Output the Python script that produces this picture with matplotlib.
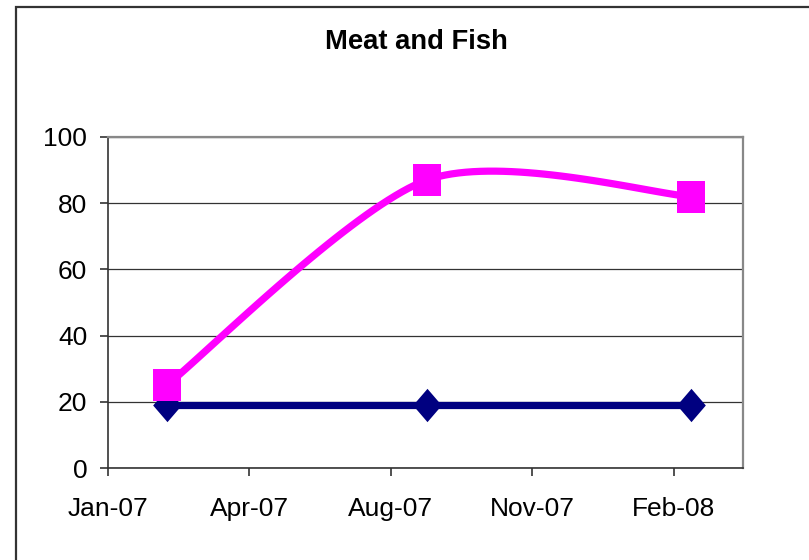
import datetime as dt
import matplotlib
matplotlib.use('Agg')
import matplotlib.pyplot as plt
import matplotlib.dates as mdates
from matplotlib.patches import Rectangle
import numpy as np

plt.rcParams['font.family'] = ['Liberation Sans', 'DejaVu Sans']

# datos
fechas = [dt.date(2007, 2, 14), dt.date(2007, 8, 28), dt.date(2008, 3, 13)]
rosa = [25, 87, 82]
azul = [19, 19, 19]
y_ticks = [0, 20, 40, 60, 80, 100]


def suavizar(xs, ys, n=40, k=0.14):
    # curva suavizada estilo Excel (Catmull-Rom con Bezier)
    xs = np.asarray(xs, float)
    ys = np.asarray(ys, float)
    pts = np.column_stack([xs, ys])
    salida = [pts[0]]
    for i in range(len(pts) - 1):
        p0 = pts[i - 1] if i > 0 else pts[i]
        p1 = pts[i]
        p2 = pts[i + 1]
        p3 = pts[i + 2] if i + 2 < len(pts) else pts[i + 1]
        c1 = p1 + (p2 - p0) * k
        c2 = p2 - (p3 - p1) * k
        t = np.linspace(0, 1, n)[1:, None]
        b = ((1 - t) ** 3) * p1 + 3 * ((1 - t) ** 2) * t * c1 + 3 * (1 - t) * t ** 2 * c2 + t ** 3 * p2
        salida.extend(b)
    salida = np.array(salida)
    return salida[:, 0], salida[:, 1]


fig = plt.figure(figsize=(8.09, 5.6), dpi=100)
ax = fig.add_axes([108 / 809, 1 - 468 / 560, (743 - 108) / 809, (468 - 137) / 560])

# marco exterior
fig.add_artist(Rectangle((15.7 / 809, -0.2), 1.2, 1.2 - 6.7 / 560, transform=fig.transFigure,
                         fill=False, ec='#333333', lw=1.6))

x = mdates.date2num(fechas)
inicio = mdates.date2num(dt.date(2007, 1, 1))

marca_cuadro = [(-0.44, -0.5), (0.44, -0.5), (0.44, 0.5), (-0.44, 0.5), (-0.44, -0.5)]
marca_rombo = [(0, 0.5), (0.43, 0), (0, -0.5), (-0.43, 0), (0, 0.5)]

ax.plot(x, azul, color='#000080', lw=5.2, marker=marca_rombo, markersize=24,
        markeredgewidth=0, zorder=3, solid_capstyle='butt')
xs, ys = suavizar(x, rosa)
ax.plot(xs, ys, color='#FF00FF', lw=5.2, zorder=4, solid_capstyle='butt')
ax.plot(x, rosa, ls='none', marker=marca_cuadro, markersize=23, color='#FF00FF',
        markeredgewidth=0, zorder=5)

ax.set_xlim(inicio, inicio + 476)
ax.set_ylim(0, 100)
ax.set_xticks([inicio + 106 * k for k in range(5)])
ax.xaxis.set_major_formatter(mdates.DateFormatter('%b-%y'))
ax.set_yticks(y_ticks)

ax.grid(axis='y', color='#333333', lw=0.9)
ax.set_axisbelow(True)

for lado in ['top', 'right']:
    ax.spines[lado].set_color('#888888')
    ax.spines[lado].set_linewidth(1.6)
for lado in ['left', 'bottom']:
    ax.spines[lado].set_color('#333333')
    ax.spines[lado].set_linewidth(1.2)

ax.tick_params(axis='x', direction='out', length=6, width=1.2, color='#333333',
               labelsize=19, pad=15)
ax.tick_params(axis='y', direction='out', length=6, width=1.2, color='#333333',
               labelsize=19, pad=9)

fig.text(416 / 809, 1 - 42 / 560, 'Meat and Fish', ha='center', va='center',
         fontsize=19.7, fontweight='bold')

fig.savefig('out.png', dpi=100)
